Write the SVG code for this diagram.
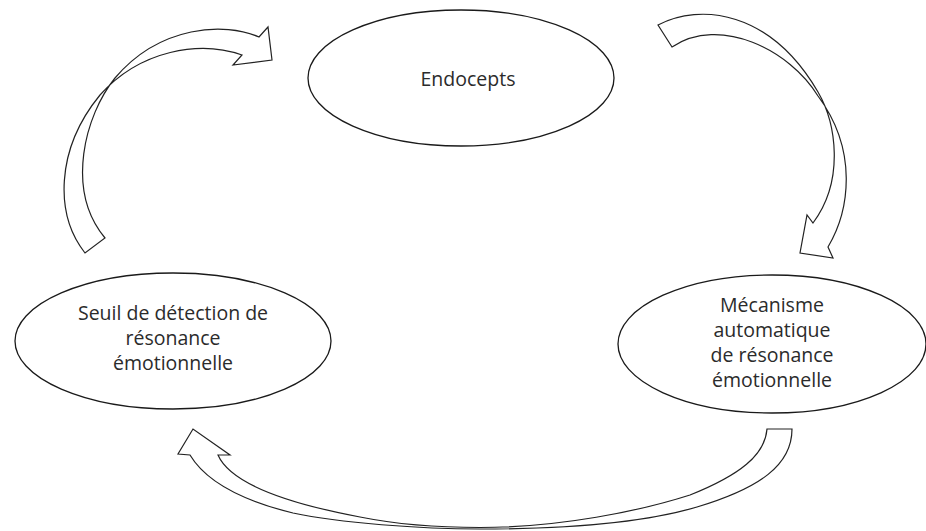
<svg xmlns="http://www.w3.org/2000/svg" width="926" height="531" viewBox="0 0 926 531">
<style>
.node ellipse{fill:#fff;stroke:#1a1a1a;stroke-width:1.3}
.node text{font-family:"Open Sans","Noto Sans",sans-serif;font-size:19.5px;fill:#2b2b2b;text-anchor:middle}
.arrow{fill:#fff;stroke:#222;stroke-width:1.2;stroke-linejoin:miter}
</style>
<rect width="926" height="531" fill="#fff"/>
<g id="connectors">
<path class="arrow" d="M85,253 C55,215 55,150 100,95 C140,50 200,40 242,55 L233,65 L272,60 L268,27 L259,37 C225,22 160,25 115,78 C85,115 65,190 105,238 Z"/>
<path class="arrow" d="M658,25 C700,3 770,10 818,92 C836,123 845,180 813,223 L807,215 L800,253 L833,258 L828,247 C850,210 858,150 818,96 C790,50 720,15 672,47 Z"/>
<path class="arrow" d="M792,429 C792,465 760,488 697,507 C640,524 560,529 480,529 C420,529 340,523 293,513 C240,500 205,480 190,455 L178,454 L193,429 L230,455 L218,455 C228,478 270,500 360,517 C400,525 440,527.5 480,527.5 C560,527.5 640,511 690,495 C740,475 765,455 767,429 Z"/>
</g>
<g id="endocepts" class="node">
<ellipse cx="461" cy="78" rx="153" ry="68"/>
<text x="468" y="86">Endocepts</text>
</g>
<g id="seuil" class="node">
<ellipse cx="173" cy="341" rx="158" ry="68"/>
<text x="173" y="320">Seuil de détection de</text>
<text x="173" y="345">résonance</text>
<text x="173" y="370">émotionnelle</text>
</g>
<g id="mecanisme" class="node">
<ellipse cx="772" cy="344" rx="154" ry="69"/>
<text x="772" y="312">Mécanisme</text>
<text x="772" y="337">automatique</text>
<text x="772" y="362">de résonance</text>
<text x="772" y="387">émotionnelle</text>
</g>
</svg>
